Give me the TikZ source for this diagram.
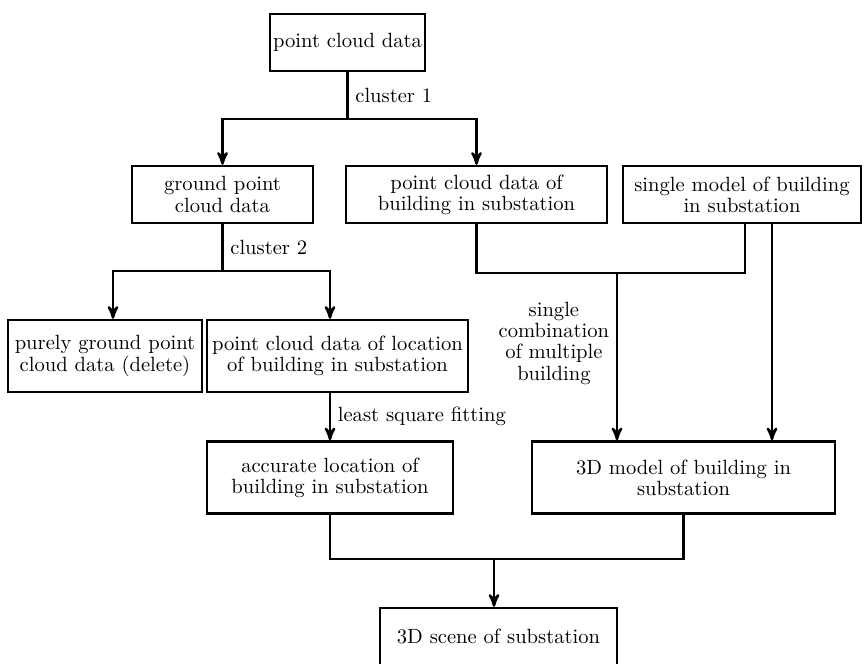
\documentclass[tikz,border=0pt]{standalone}
\usepackage{tikz}
\usepackage{amsmath}
\usetikzlibrary{arrows,shapes,positioning}
\tikzset{
	block/.style={
		rectangle,
		draw=black,
		line width=1.2pt,
		fill=white,
		align=center,
		inner sep=1pt,
		font=\fontsize{10.3}{10.6}\selectfont
	},
	rowone/.style={
		block,
		minimum height=28.5pt
	},
	rowtwo/.style={
		block,
		minimum height=36pt
	},
	link/.style={
		draw=black,
		line width=1.2pt
	},
	arrow/.style={
		link,
		->,
		>=stealth'
	},
	note/.style={
		font=\fontsize{10.3}{10.6}\selectfont,
		align=center
	},
}

\begin{document}
\begin{tikzpicture}[x=0.5pt,y=-0.5pt,>=stealth']
	\clip (0,0) rectangle (864,664);
	\node [rowone,minimum width=77.5pt] (pcd) at (347.5,42.5) {point cloud data};
	\node [rowone,minimum width=90.5pt] (ground) at (222.5,194.5) {ground point\\cloud data};
	\node [rowone,minimum width=130.5pt] (bldg) at (476.5,194.5) {point cloud data of\\building in substation};
	\node [rowone,minimum width=119pt] (single) at (742,194.5) {single model of building\\in substation};
	\node [rowtwo,minimum width=97pt] (purely) at (105,356) {purely ground point\\cloud data (delete)};
	\node [rowtwo,minimum width=130.5pt] (loc) at (337.5,356) {point cloud data of location\\of building in substation};
	\node [rowtwo,minimum width=123pt] (acc) at (330,477.5) {accurate location of\\building in substation};
	\node [rowtwo,minimum width=151.5pt] (model) at (683.5,477.5) {3D model of building in\\substation};
	\node [rowone,minimum width=118.5pt] (scene) at (498.5,636.5) {3D scene of substation};

	\coordinate (j1) at (347.5,119);
	\coordinate (j2) at (222.5,271);
	\coordinate (j3) at (617,273);
	\coordinate (j4) at (494,559);

	\draw [link] (pcd) -- node [note,right] {cluster 1} (j1);
	\draw [arrow] (j1) -| (ground);
	\draw [arrow] (j1) -| (bldg);

	\draw [link] (ground) -- node [note,right] {cluster 2} (j2);
	\draw [arrow] (j2) -| ([xshift=4pt]purely.north);
	\draw [arrow] (j2) -| (loc.north -| acc.north);
	\draw [arrow] (loc.south -| acc.north) -- node [note,right] {least square fitting} (acc);

	\draw [link] (bldg.south) |- (j3);
	\draw [link] ([xshift=1.5pt]single.south) |- (j3);
	\draw [arrow] (j3) -- node [note,left,pos=0.42] {single\\combination\\of multiple\\building} (j3 |- model.north);
	\draw [arrow] ([xshift=15pt]single.south) -- ([xshift=15pt]single.south |- model.north);

	\draw [link] (acc.south) |- (j4);
	\draw [link] (model.south) |- (j4);
	\draw [arrow] (j4) -- (j4 |- scene.north);
\end{tikzpicture}
\end{document}
